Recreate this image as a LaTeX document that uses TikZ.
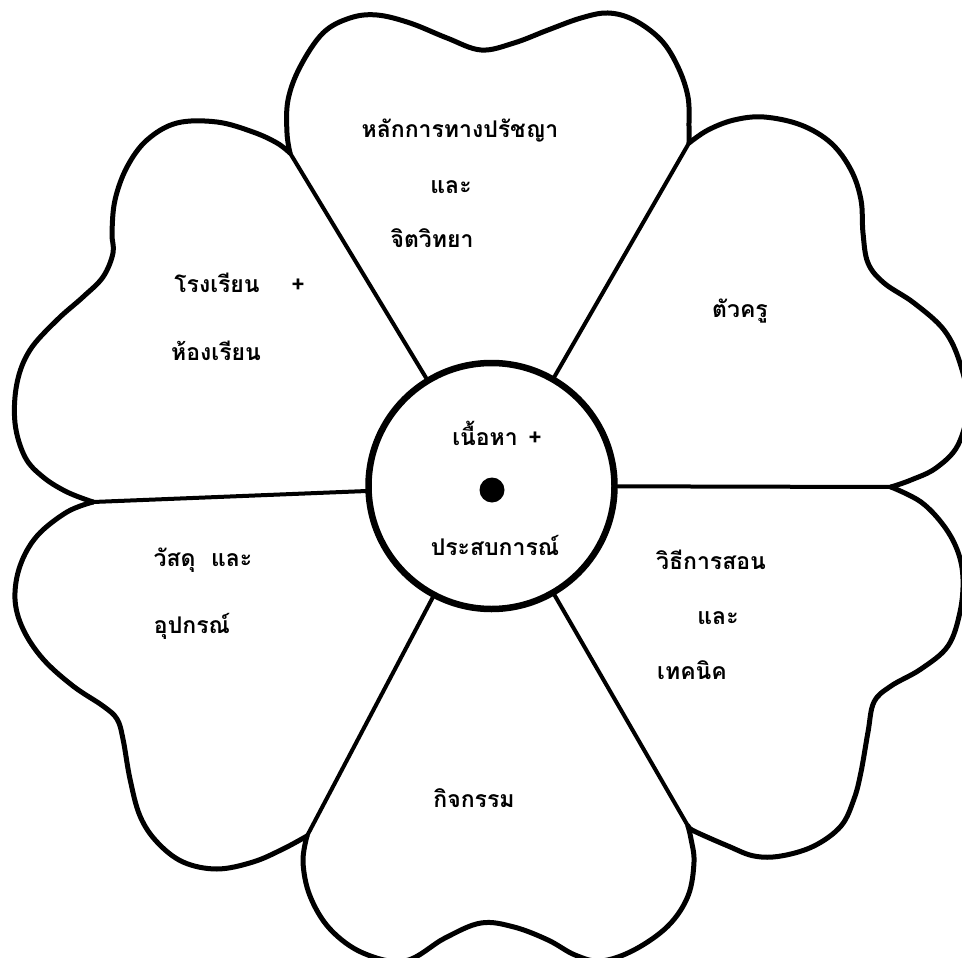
\documentclass[tikz,border=0pt]{standalone}
\usepackage{fontspec}
\newfontfamily\thai[Script=Thai]{Loma}
\begin{document}
\begin{tikzpicture}[x=1pt,y=-1pt,
  outline/.style={line width=5pt, line join=round, line cap=round},
  spoke/.style={line width=4pt, line cap=round},
  hubstyle/.style={circle, draw, line width=6.5pt, minimum size=246pt, inner sep=0pt},
  lbl/.style={font=\thai\bfseries\fontsize{23}{27}\selectfont, inner sep=0pt, anchor=base},
  plus/.style={font=\thai\bfseries\fontsize{23}{27}\selectfont, inner sep=0pt, anchor=base}]
\useasboundingbox (0,0) rectangle (962,958);
\clip (0,0) rectangle (962,958);
\fill[white] (0,0) rectangle (962,958);

% junction points of the petals
\coordinate (jTL) at (290,153);
\coordinate (jTR) at (689,143);
\coordinate (jR)  at (891,487);
\coordinate (jBR) at (688,826);
\coordinate (jBL) at (307,836);
\coordinate (jL)  at (93,502);

% centre disc
\node[hubstyle] (hub) at (491.5,486) {};
\fill (492,490) circle (12.5);

% petals
\draw[outline] plot[smooth, tension=0.6] coordinates {(290,153) (287,133) (288,100) (300,67) (323,33) (350,18) (377,15) (410,23) (447,38) (481,50) (514,43) (548,30) (581,18) (608,13) (634,20) (661,40) (678,67) (688,97) (689,127) (689,143)};
\draw[outline] plot[smooth, tension=0.6] coordinates {(689,143) (708,130) (734,120) (764,117) (801,125) (831,143) (851,170) (861,200) (863,233) (868,263) (884,283) (914,303) (944,330) (960,363) (968,405) (958,445) (936,468) (911,480) (891,487)};
\draw[outline] plot[smooth, tension=0.6] coordinates {(891,487) (921,502) (944,526) (958,552) (963,579) (960,612) (948,646) (921,669) (891,686) (874,702) (868,732) (861,772) (854,799) (841,826) (814,846) (781,856) (754,856) (728,846) (694,831) (688,826)};
\draw[outline] plot[smooth, tension=0.6] coordinates {(688,826) (691,839) (694,862) (688,896) (668,926) (634,950) (601,961) (575,955) (548,940) (514,927) (481,923) (445,938) (405,961) (363,953) (330,929) (310,896) (303,862) (307,836)};
\draw[outline] plot[smooth, tension=0.6] coordinates {(307,836) (283,849) (253,862) (217,869) (183,862) (157,842) (140,816) (130,779) (123,739) (117,719) (103,706) (73,686) (43,659) (23,629) (15,599) (20,566) (37,536) (67,512) (93,502)};
\draw[outline] plot[smooth, tension=0.6] coordinates {(93,502) (67,492) (43,477) (25,457) (15,423) (17,383) (30,350) (57,320) (83,297) (103,277) (113,253) (112,233) (115,200) (127,167) (147,140) (177,123) (217,122) (253,132) (277,143) (290,153)};

% spokes
\draw[spoke] (jTL) -- (hub);
\draw[spoke] (jTR) -- (hub);
\draw[spoke] (jR) -- (hub);
\draw[spoke] (jBR) -- (hub);
\draw[spoke] (jBL) -- (hub);
\draw[spoke] (jL) -- (hub);

% labels
\node[lbl] (t1) at (460,138) {หลักการทางปรัชญา};
\node[lbl] (t2) at (451,193) {และ};
\node[lbl] (t3) at (432,247) {จิตวิทยา};
\node[lbl] (ul1) at (217,292) {โรงเรียน};
\node[plus] (ulp) at (298,292) {+};
\node[lbl] (ul2) at (216,360) {ห้องเรียน};
\node[lbl] (ur) at (740,317) {ตัวครู};
\node[lbl] (c1) at (485,445) {เนื้อหา};
\node[plus] (cp) at (535,445) {+};
\node[lbl] (c2) at (495,555) {ประสบการณ์};
\node[lbl] (ll1) at (203,566) {วัสดุ\ \ และ};
\node[lbl] (ll2) at (192,633) {อุปกรณ์};
\node[lbl] (lr1) at (711,569) {วิธีการสอน};
\node[lbl] (lr2) at (718,624) {และ};
\node[lbl] (lr3) at (692,679) {เทคนิค};
\node[lbl] (b1) at (474,807) {กิจกรรม};
\end{tikzpicture}
\end{document}
